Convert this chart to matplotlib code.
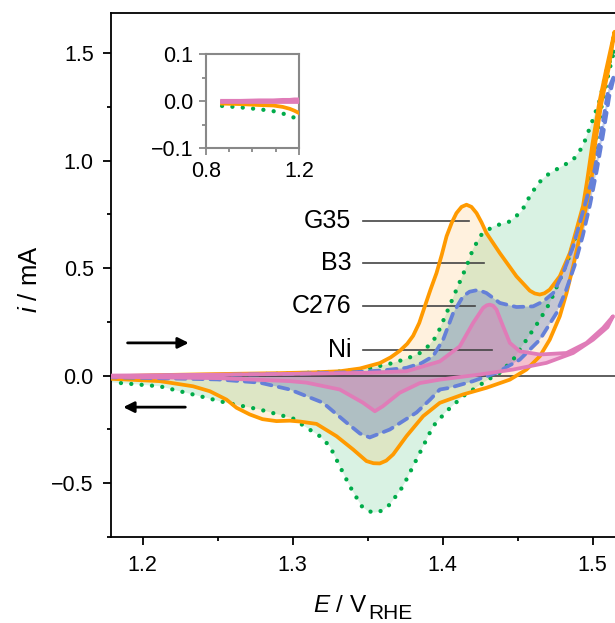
"""Cyclic voltammograms of G35, B3, C276 and Ni with an inset of the low-potential range."""

import matplotlib as mpl

mpl.use("Agg")
import matplotlib.pyplot as plt
import numpy as np
from matplotlib.ticker import MultipleLocator

plt.rcParams["font.family"] = ["Liberation Sans", "DejaVu Sans"]
plt.rcParams["mathtext.fontset"] = "custom"
plt.rcParams["mathtext.rm"] = "Liberation Sans"
plt.rcParams["mathtext.it"] = "Liberation Sans:italic"

# --- data (E in V vs RHE, i in mA); fwd = anodic sweep, rev = cathodic sweep ---
E_g35_fwd = [1.179, 1.21, 1.25, 1.29, 1.315, 1.3315, 1.345, 1.3582, 1.3655, 1.3715, 1.3765,
             1.3804, 1.3845, 1.3882, 1.392, 1.396, 1.3995, 1.4027, 1.4062, 1.4093, 1.4127,
             1.416, 1.4193, 1.4227, 1.426, 1.4293, 1.4382, 1.4493, 1.4582, 1.4615, 1.4649,
             1.468, 1.4715, 1.4782, 1.4849, 1.4893, 1.4937, 1.4965, 1.500, 1.5045, 1.509, 1.5147]
i_g35_fwd = [-0.004, 0.002, 0.007, 0.011, 0.015, 0.020, 0.033, 0.058, 0.085, 0.115, 0.148,
             0.185, 0.245, 0.322, 0.400, 0.477, 0.562, 0.648, 0.712, 0.756, 0.785,
             0.795, 0.785, 0.756, 0.713, 0.663, 0.570, 0.462, 0.395, 0.382, 0.377,
             0.383, 0.400, 0.462, 0.570, 0.679, 0.790, 0.911, 1.08, 1.27, 1.42, 1.60]
E_g35_rev = [1.5147, 1.5105, 1.506, 1.5018, 1.4993, 1.4949, 1.4915, 1.4871, 1.4827, 1.4782,
             1.4715, 1.4649, 1.456, 1.4449, 1.4293, 1.4137, 1.3982, 1.3871, 1.376, 1.3671,
             1.3625, 1.3582, 1.354, 1.3493, 1.3404, 1.3293, 1.316, 1.305, 1.2982, 1.2893,
             1.28, 1.2715, 1.2627, 1.256, 1.2449, 1.2337, 1.2115, 1.179]
i_g35_rev = [1.60, 1.42, 1.27, 1.08, 0.911, 0.756, 0.648, 0.508, 0.384, 0.276,
             0.167, 0.090, 0.028, -0.019, -0.057, -0.088, -0.127, -0.189, -0.282, -0.367,
             -0.396, -0.409, -0.408, -0.398, -0.344, -0.282, -0.225, -0.214, -0.210, -0.212,
             -0.203, -0.181, -0.150, -0.112, -0.073, -0.050, -0.026, -0.015]

E_b3_fwd = [1.179, 1.22, 1.26, 1.30, 1.33, 1.35, 1.3649, 1.3760, 1.3849, 1.391, 1.396, 1.4027,
            1.4093, 1.416, 1.4204, 1.426, 1.4337, 1.4449, 1.4527, 1.4593, 1.466, 1.4715,
            1.480, 1.4871, 1.4935, 1.5002, 1.5049, 1.5093, 1.5147]
i_b3_fwd = [-0.008, -0.002, 0.004, 0.010, 0.018, 0.032, 0.055, 0.078, 0.105, 0.140, 0.183, 0.291,
            0.400, 0.508, 0.590, 0.656, 0.694, 0.717, 0.764, 0.849, 0.911, 0.942,
            0.975, 1.004, 1.066, 1.19, 1.283, 1.42, 1.52]
E_b3_rev = [1.5147, 1.5105, 1.506, 1.5015, 1.4975, 1.4937, 1.4893, 1.4849, 1.4782, 1.4715,
            1.4649, 1.456, 1.4471, 1.4382, 1.4304, 1.4137, 1.4027, 1.3937, 1.3871, 1.3804,
            1.3737, 1.3649, 1.3600, 1.3549, 1.350, 1.346, 1.3382, 1.3315, 1.3249, 1.3182,
            1.3071, 1.3004, 1.2782, 1.256, 1.2337, 1.2115, 1.179]
i_b3_rev = [1.52, 1.40, 1.25, 1.05, 0.90, 0.77, 0.66, 0.56, 0.446, 0.338,
            0.260, 0.167, 0.074, 0.013, -0.019, -0.096, -0.166, -0.236, -0.329, -0.422,
            -0.515, -0.600, -0.628, -0.638, -0.630, -0.607, -0.515, -0.422, -0.329, -0.282,
            -0.232, -0.200, -0.158, -0.127, -0.088, -0.050, -0.031]

E_c276_fwd = [1.179, 1.25, 1.30, 1.34, 1.36, 1.376, 1.386, 1.3937, 1.4004, 1.4071, 1.4137,
              1.418, 1.4227, 1.426, 1.4293, 1.4382, 1.4493, 1.4604, 1.4671, 1.4738, 1.4804,
              1.4871, 1.4915, 1.4965, 1.5015, 1.5055, 1.5105, 1.5147]
i_c276_fwd = [-0.004, 0.003, 0.008, 0.015, 0.024, 0.036, 0.058, 0.090, 0.167, 0.291, 0.369,
              0.390, 0.397, 0.393, 0.384, 0.338, 0.319, 0.322, 0.345, 0.384, 0.477,
              0.601, 0.710, 0.834, 0.960, 1.12, 1.33, 1.40]
E_c276_rev = [1.5147, 1.5112, 1.507, 1.503, 1.4985, 1.4935, 1.488, 1.482, 1.476, 1.4649,
              1.4515, 1.436, 1.4204, 1.4049, 1.3982, 1.392, 1.3827, 1.3649, 1.3515, 1.345,
              1.336, 1.3202, 1.2982, 1.2782, 1.25, 1.179]
i_c276_rev = [1.40, 1.30, 1.12, 0.96, 0.80, 0.65, 0.51, 0.39, 0.291, 0.167,
              0.074, 0.013, -0.026, -0.057, -0.065, -0.110, -0.172, -0.251, -0.288, -0.270,
              -0.219, -0.126, -0.065, -0.033, -0.018, -0.008]

E_ni_fwd = [1.179, 1.25, 1.30, 1.35, 1.376, 1.3982, 1.4115, 1.4204, 1.4271, 1.4295, 1.4315,
            1.4338, 1.436, 1.4404, 1.4449, 1.4515, 1.4649, 1.4827, 1.496, 1.5071, 1.5137]
i_ni_fwd = [0.000, 0.004, 0.008, 0.013, 0.020, 0.066, 0.136, 0.245, 0.315, 0.327, 0.330,
            0.325, 0.307, 0.229, 0.152, 0.113, 0.098, 0.105, 0.152, 0.222, 0.276]
E_ni_rev = [1.5137, 1.510, 1.5004, 1.4871, 1.4693, 1.4471, 1.4249, 1.3982, 1.3849, 1.3715,
            1.3602, 1.3549, 1.3469, 1.3315, 1.3093, 1.2982, 1.25, 1.179]
i_ni_rev = [0.276, 0.225, 0.167, 0.105, 0.059, 0.028, 0.005, -0.019, -0.035, -0.080,
            -0.143, -0.166, -0.126, -0.065, -0.033, -0.026, -0.012, -0.006]

# inset: low-potential part of the same sweeps
E_inset = [0.87, 0.95, 1.03, 1.09, 1.13, 1.16, 1.18, 1.20]
i_inset_fwd = [0.001, 0.001, 0.002, 0.002, 0.003, 0.003, 0.004, 0.004]
i_inset_g35_rev = [-0.005, -0.006, -0.008, -0.009, -0.012, -0.016, -0.020, -0.025]
i_inset_b3_rev = [-0.010, -0.013, -0.017, -0.021, -0.026, -0.031, -0.035, -0.040]
i_inset_ni_rev = [-0.002, -0.002, -0.002, -0.002, -0.002, -0.002, -0.002, -0.002]

labels = ["G35", "B3", "C276", "Ni"]
label_y = [0.721, 0.522, 0.322, 0.121]
label_x_end = [1.4175, 1.4275, 1.4218, 1.4327]

ORANGE = "#ff9a00"
GREEN = "#00ac4a"
BLUE = "#6580d8"
PINK = "#e07cb8"
DOTS = (0, (0.01, 2.4))
DASHES = (0, (2.6, 2.0))

samples = [
    # (E_fwd, i_fwd, E_rev, i_rev, color, fill color, fill alpha, line style, width)
    (E_b3_fwd, i_b3_fwd, E_b3_rev, i_b3_rev, GREEN, "#00aa46", 0.15, DOTS, 3.1),
    (E_g35_fwd, i_g35_fwd, E_g35_rev, i_g35_rev, ORANGE, "#ff9900", 0.13, "-", 2.7),
    (E_c276_fwd, i_c276_fwd, E_c276_rev, i_c276_rev, BLUE, "#5a78c0", 0.35, DASHES, 2.7),
    (E_ni_fwd, i_ni_fwd, E_ni_rev, i_ni_rev, PINK, "#e678b4", 0.40, "-", 2.7),
]

fig = plt.figure(figsize=(6.15, 6.23), dpi=100)
ax = fig.add_axes([0.1805, 0.1385, 0.8195, 0.8402])

for e_f, i_f, e_r, i_r, col, fcol, alpha, ls, lw in samples:
    ax.fill(np.concatenate([e_f, e_r]), np.concatenate([i_f, i_r]),
            color=fcol, alpha=alpha, lw=0, zorder=1)
for e_f, i_f, e_r, i_r, col, fcol, alpha, ls, lw in samples:
    e_all = np.concatenate([e_f, e_r])
    i_all = np.concatenate([i_f, i_r])
    ax.plot(e_all, i_all, color=col, lw=lw, linestyle=ls, zorder=3,
            solid_joinstyle="round", solid_capstyle="round",
            dash_capstyle="round", dash_joinstyle="round")

ax.axhline(0, color="#333333", lw=1.1, zorder=1.5)

for lab, y, x_end in zip(labels, label_y, label_x_end):
    ax.plot([1.3469, x_end], [y, y], color="#444444", lw=1.2, zorder=1.8)
    ax.text(1.3393, y, lab, ha="right", va="center", fontsize=18)

ax.annotate("", xy=(1.2327, 0.152), xytext=(1.1882, 0.152),
            arrowprops=dict(arrowstyle="-|>", color="black", lw=2, mutation_scale=16))
ax.annotate("", xy=(1.1853, -0.147), xytext=(1.2304, -0.147),
            arrowprops=dict(arrowstyle="-|>", color="black", lw=2, mutation_scale=16))

ax.set_xlim(1.179, 1.515)
ax.set_ylim(-0.75, 1.686)
ax.set_xticks([1.2, 1.3, 1.4, 1.5])
ax.set_yticks([-0.5, 0.0, 0.5, 1.0, 1.5])
ax.xaxis.set_minor_locator(MultipleLocator(0.05))
ax.yaxis.set_minor_locator(MultipleLocator(0.25))
ax.tick_params(which="both", direction="out", width=1.3, labelsize=15.5, top=False, right=False)
ax.tick_params(which="major", length=5.5)
ax.tick_params(which="minor", length=3)
ax.tick_params(axis="x", pad=8)
ax.tick_params(axis="y", pad=7)
for side in ["left", "bottom", "top"]:
    ax.spines[side].set_linewidth(1.3)
ax.spines["right"].set_visible(False)

# axis labels, with a near full-size subscript as in the original
xlab = fig.text(313 / 615, 1 - 612 / 623, r"$E$ / V", fontsize=17.5, ha="left", va="baseline")
ax.annotate("RHE", xy=(1, 0), xycoords=xlab, xytext=(0.5, -1.5), textcoords="offset points",
            fontsize=15, ha="left", va="baseline")
fig.text(30 / 615, 1 - 279 / 623, r"$i$ / mA", fontsize=18.5, rotation=90,
         ha="center", va="center")

# inset
axi = fig.add_axes([0.3345, 0.762, 0.1517, 0.1509])
axi.plot(E_inset, i_inset_b3_rev, color=GREEN, lw=3.1, linestyle=DOTS,
         dash_capstyle="round", zorder=2)
axi.plot(E_inset, i_inset_g35_rev, color=ORANGE, lw=2.7, zorder=3)
axi.fill_between(E_inset, i_inset_ni_rev, i_inset_fwd, color=PINK, alpha=0.6, lw=0, zorder=3)
axi.plot(E_inset, i_inset_fwd, color=PINK, lw=2.7, zorder=4)
axi.plot(E_inset, i_inset_ni_rev, color=PINK, lw=2.7, zorder=4)
axi.set_xlim(0.8, 1.2)
axi.set_ylim(-0.1, 0.1)
axi.set_xticks([0.8, 1.2])
axi.set_yticks([-0.1, 0.0, 0.1])
axi.xaxis.set_minor_locator(MultipleLocator(0.1))
axi.yaxis.set_minor_locator(MultipleLocator(0.05))
axi.tick_params(which="both", direction="out", width=1.3, color="#888888",
                labelsize=15.5, pad=4)
axi.tick_params(which="major", length=5)
axi.tick_params(which="minor", length=3)
for sp in axi.spines.values():
    sp.set_color("#888888")
    sp.set_linewidth(1.5)

fig.savefig("out.png", dpi=100)
plt.close(fig)
